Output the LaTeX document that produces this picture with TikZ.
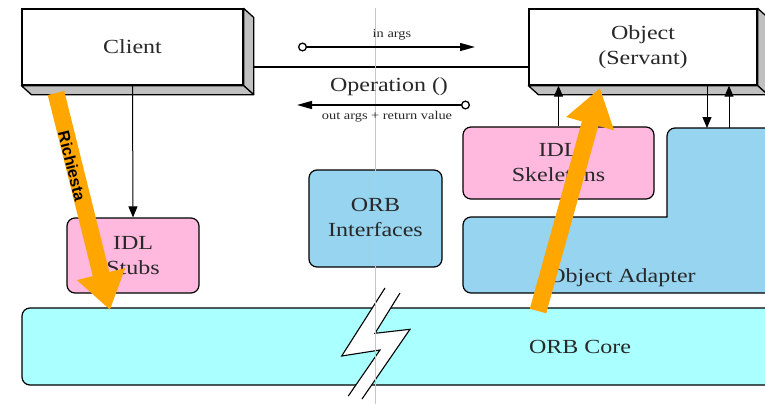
\documentclass[tikz,border=0pt]{standalone}
\usepackage{fontspec}
\setmainfont[FakeStretch=1.2]{Liberation Serif}
\newfontfamily\labelsans{Liberation Sans}
\usetikzlibrary{arrows.meta,calc}

\definecolor{stubpink}{RGB}{255,184,222}
\definecolor{orbblue}{RGB}{150,212,240}
\definecolor{corecyan}{RGB}{170,255,255}
\definecolor{bevel}{RGB}{192,192,192}
\definecolor{ink}{RGB}{40,40,40}
\definecolor{flow}{RGB}{255,166,0}

\begin{document}
\begin{tikzpicture}[x=1pt,y=-1pt,
  every node/.style={text=ink},
  big/.style={font=\fontsize{20}{25}\selectfont, align=center},
  small/.style={font=\fontsize{12}{14}\selectfont},
  frontbox/.style={draw=black, line width=1.3pt, fill=white, inner sep=0pt},
  softbox/.style={draw=black, line width=1.2pt, rounded corners=8pt, inner sep=0pt},
  bevelface/.style={fill=bevel, draw=black, line width=1.3pt, line join=round},
  call/.style={line width=1pt, -{Triangle[length=11pt,width=9pt]}},
  msg/.style={line width=1.3pt, {Circle[open,length=9pt,width=9pt,line width=1.3pt]}-{Triangle[length=15pt,width=8pt]}},
  flowarrow/.style={draw=flow, line width=17pt, -{Triangle[length=37pt,width=47pt]}},
]
\useasboundingbox (0,0) rectangle (765,404);
\clip (0,0) rectangle (765,404);

% ORB core band and the break symbol across it
\node[softbox, fill=corecyan, minimum width=768pt, minimum height=77pt] (core) at (406,346.5) {};
\node[big] (coretext) at (580,347) {ORB Core};
\fill[white] (385,288) -- (341.7,356) -- (380,350) -- (348.3,396) -- (362,399)
  -- (410,329.3) -- (375,333.3) -- (400,293) -- cycle;
\draw[line width=1.1pt] (385,288) -- (341.7,356) -- (380,350) -- (348.3,396);
\draw[line width=1.1pt] (400,293) -- (375,333.3) -- (410,329.3) -- (362,399);

% client with bevelled edges
\node[frontbox, big, minimum width=221pt, minimum height=76pt] (client) at (132.5,47) {Client};
\draw[bevelface] (client.north east) -- ++(10,9) -- ($(client.south east)+(10,9)$) -- (client.south east) -- cycle;
\draw[bevelface] (client.south west) -- ++(10,9) -- ($(client.south east)+(10,9)$) -- (client.south east) -- cycle;

% servant object with bevelled edges
\node[frontbox, big, minimum width=228pt, minimum height=76pt] (servant) at (643,47) {Object\\(Servant)};
\draw[bevelface] (servant.north east) -- ++(10,9) -- ($(servant.south east)+(10,9)$) -- (servant.south east) -- cycle;
\draw[bevelface] (servant.south west) -- ++(10,9) -- ($(servant.south east)+(10,9)$) -- (servant.south east) -- cycle;

% stubs, interfaces, skeletons
\node[softbox, fill=stubpink, big, minimum width=132pt, minimum height=75pt] (stubs) at (133,255.5) {IDL\\Stubs};
\node[softbox, fill=orbblue, minimum width=133pt, minimum height=97pt] (orbif) at (375.5,218.5) {};
\node[softbox, fill=stubpink, big, minimum width=191pt, minimum height=72pt] (skel) at (558.5,163) {IDL\\Skeletons};

% object adapter (L-shaped, sharp inner corner)
\draw[fill=orbblue, line width=1.2pt, line cap=rect]
  (667,217) [rounded corners=8pt] -- (667,128) -- (780,128) -- (780,293) -- (463,293) -- (463,217) -- (667,217);
\node[big] (adaptertext) at (622,278) {Object Adapter};
\coordinate (downA) at (707,128);
\coordinate (upA) at (729,128);

% request link between client and servant
\coordinate (linkL) at (253,67);
\draw[line width=1.6pt] (linkL) -- (linkL -| servant.west);

% centre axis
\coordinate (axisTop) at (375,8);
\coordinate (axisBot) at (375,404);
\draw[gray!45, line width=0.8pt] (axisTop) -- (axisBot);
\node[big, fill=orbblue, inner sep=1pt] (oriftext) at (375.5,217.5) {ORB\\Interfaces};

% operation messages
\coordinate (inS) at (298,47);
\coordinate (inE) at (475,47);
\draw[msg] (inS) -- (inE);
\coordinate (outS) at (470,105);
\coordinate (outE) at (297,105);
\draw[msg] (outS) -- (outE);
\node[small] (inlbl) at (392,35) {in args};
\node[big] (oplbl) at (389,87) {Operation ()};
\node[small] (outlbl) at (387,117) {out args + return value};

% calls between layers
\draw[call] (client.south) -- (stubs.north);
\draw[call] (skel.north) -- (skel.north |- servant.south);
\draw[call] (downA |- servant.south) -- (downA);
\draw[call] (upA) -- (upA |- servant.south);

% request and dispatch flow
\coordinate (reqA) at (56,93);
\coordinate (reqB) at (110,310);
\draw[flowarrow] (reqA) -- (reqB);
\node[font=\labelsans\bfseries\fontsize{16}{19}\selectfont, text=black, rotate=-76] (reqlbl) at (72,166) {Richiesta};
\coordinate (repA) at (538,311);
\coordinate (repB) at (600,88);
\draw[flowarrow] (repA) -- (repB);
\end{tikzpicture}
\end{document}
